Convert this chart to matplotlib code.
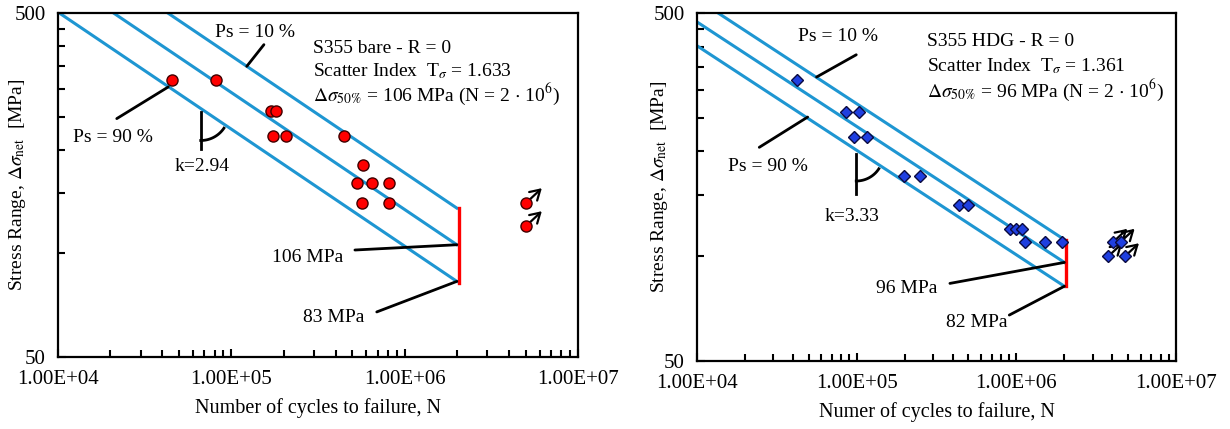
import numpy as np
import matplotlib.pyplot as plt
from matplotlib.ticker import FixedLocator, NullFormatter, FuncFormatter, LogLocator
from matplotlib.transforms import offset_copy

plt.rcParams['font.family'] = ['Liberation Serif', 'DejaVu Serif']
plt.rcParams['mathtext.fontset'] = 'stix'
plt.rcParams['font.size'] = 14

# S355 bare, R = 0
bare_N = [45300, 81700, 168700, 182000, 173000, 207000, 444000,
          578000, 529000, 648000, 813000, 565000, 813000]
bare_S = [320, 320, 260, 260, 220, 220, 220, 181, 160, 160, 160, 140, 140]
bare_runout_N = [5.0e6, 5.0e6]
bare_runout_S = [140, 120]
bare_S50 = 106
bare_T = 1.633
bare_k = 2.94

# S355 HDG, R = 0
hdg_N = [42400, 85500, 102900, 96700, 116400, 198600, 250000, 439000,
         500000, 912000, 994000, 1080000, 1130000, 1510000, 1920000]
hdg_S = [320, 260, 260, 220, 220, 170, 170, 140, 140, 120, 120, 120, 110, 110, 110]
hdg_runout_N = [4.05e6, 4.5e6, 3.77e6, 4.79e6]
hdg_runout_S = [110, 110, 100, 100]
hdg_S50 = 96
hdg_S90 = 82
hdg_T = 1.361
hdg_k = 3.33

N_ref = 2e6
line_blue = '#1e96d2'

fig = plt.figure(figsize=(12.3, 4.29), dpi=100)
W, H = 1230, 429
ax1 = fig.add_axes([58 / W, 1 - 357 / H, 520 / W, 344 / H])
ax2 = fig.add_axes([697 / W, 1 - 361 / H, 479 / W, 348 / H])


def setup_axes(ax, xlabel, ylab_x):
    ax.set_xscale('log')
    ax.set_yscale('log')
    ax.set_xlim(1e4, 1e7)
    ax.set_ylim(50, 500)
    ax.xaxis.set_major_locator(FixedLocator([1e4, 1e5, 1e6, 1e7]))
    ax.xaxis.set_major_formatter(FuncFormatter(lambda v, p: f'{v:.2E}'))
    ax.xaxis.set_minor_locator(LogLocator(base=10, subs=np.arange(2, 10)))
    ax.xaxis.set_minor_formatter(NullFormatter())
    ax.yaxis.set_major_locator(FixedLocator([50, 500]))
    ax.yaxis.set_major_formatter(FuncFormatter(lambda v, p: f'{v:.0f}'))
    ax.yaxis.set_minor_locator(FixedLocator(np.arange(100, 500, 50)))
    ax.yaxis.set_minor_formatter(NullFormatter())
    ax.tick_params(which='both', direction='in', width=1.5, labelsize=15)
    ax.tick_params(which='major', length=6, pad=9)
    ax.tick_params(which='minor', length=5)
    for sp in ax.spines.values():
        sp.set_linewidth(1.6)
    ax.set_xlabel(xlabel, fontsize=14.5, labelpad=7)
    ax.set_ylabel(r'Stress Range, $\Delta\sigma_{\mathrm{net}}$  [MPa]', fontsize=14)
    ax.yaxis.set_label_coords(ylab_x, 0.5)


def sn_line(S_at_ref, k):
    N = np.logspace(3.5, np.log10(N_ref), 200)
    return N, S_at_ref * (N_ref / N) ** (1.0 / k)


def angle_mark(ax, N_v, S_v, k, drop, radius):
    # vertical stroke under the 90 % line plus an arc up to the line
    vx, vy = ax.transData.transform((N_v, S_v))
    x2, y2 = ax.transData.transform((N_v * 10, S_v * 10 ** (-1.0 / k)))
    ang = np.arctan2(y2 - vy, x2 - vx)
    vy = vy - 4
    inv = ax.transData.inverted()
    pts = inv.transform([(vx, vy), (vx, vy - drop)])
    ax.plot(pts[:, 0], pts[:, 1], color='k', lw=2)
    t = np.linspace(-np.pi / 2, ang, 40)
    arc = inv.transform(np.column_stack([vx + radius * np.cos(t), vy + radius * np.sin(t)]))
    ax.plot(arc[:, 0], arc[:, 1], color='k', lw=2)


def runout_arrows(ax, Ns, Ss, dx, dy):
    tip = offset_copy(ax.transData, fig=fig, x=dx, y=dy, units='dots')
    for n, s in zip(Ns, Ss):
        ax.annotate('', xy=(n, s), xycoords=tip, xytext=(n, s), textcoords='data',
                    arrowprops=dict(arrowstyle='->,head_length=0.5,head_width=0.3',
                                    lw=1.6, color='k', shrinkA=0, shrinkB=0))


def leader(ax, p_text, p_end, end_data=False):
    ax.annotate('', xy=p_end, xycoords='data' if end_data else 'axes fraction',
                xytext=p_text, textcoords='axes fraction',
                arrowprops=dict(arrowstyle='-', lw=2, color='k', shrinkA=0, shrinkB=0))


# ---------------- left panel ----------------
setup_axes(ax1, 'Number of cycles to failure, N', -0.058)
S90 = bare_S50 / np.sqrt(bare_T)
S10 = bare_S50 * np.sqrt(bare_T)
for s in (S10, bare_S50, S90):
    n, sv = sn_line(s, bare_k)
    ax1.plot(n, sv, color=line_blue, lw=2.2)
ax1.plot([N_ref * 1.03, N_ref * 1.03], [S90 * 0.99, S10], color='#ff0000', lw=2.4)
ax1.plot(bare_N, bare_S, 'o', ms=8, mfc='#ff0000', mec='#400000', mew=1, ls='none', zorder=5)
ax1.plot(bare_runout_N, bare_runout_S, 'o', ms=8, mfc='#ff0000', mec='#400000', mew=1, ls='none', zorder=5)
runout_arrows(ax1, bare_runout_N, bare_runout_S, 16, 15)

ax1.text(0.379, 0.942, 'Ps = 10 %', transform=ax1.transAxes, ha='center', va='center')
leader(ax1, (0.396, 0.908), (0.363, 0.845))
ax1.text(0.105, 0.637, 'Ps = 90 %', transform=ax1.transAxes, ha='center', va='center')
leader(ax1, (0.113, 0.693), (0.212, 0.785))
angle_mark(ax1, 66600, S90 * (N_ref / 66600) ** (1 / bare_k), bare_k, 37, 28)
ax1.text(0.278, 0.555, 'k=2.94', transform=ax1.transAxes, ha='center', va='center')
ax1.text(0.49, 0.898, 'S355 bare - R = 0', transform=ax1.transAxes, va='center')
ax1.text(0.49, 0.831, r'Scatter Index  T$_\sigma$ = 1.633', transform=ax1.transAxes, va='center')
ax1.text(0.49, 0.763, r'$\Delta\sigma_{50\%}$ = 106 MPa (N = 2 $\cdot$ 10$^6$)',
         transform=ax1.transAxes, va='center')
ax1.text(0.48, 0.289, '106 MPa', transform=ax1.transAxes, ha='center', va='center')
leader(ax1, (0.571, 0.311), (N_ref, bare_S50), end_data=True)
ax1.text(0.53, 0.114, '83 MPa', transform=ax1.transAxes, ha='center', va='center')
leader(ax1, (0.613, 0.131), (N_ref, S90), end_data=True)

# ---------------- right panel ----------------
setup_axes(ax2, 'Numer of cycles to failure, N', -0.056)
S10h = hdg_S90 * hdg_T
for s in (S10h, hdg_S50, hdg_S90):
    n, sv = sn_line(s, hdg_k)
    ax2.plot(n, sv, color=line_blue, lw=2.2)
ax2.plot([N_ref * 1.02, N_ref * 1.02], [hdg_S90, S10h], color='#ff0000', lw=2.4)
ax2.plot(hdg_N, hdg_S, 'D', ms=6.5, mfc='#1f3fe0', mec='#0a0a40', mew=1, ls='none', zorder=5)
ax2.plot(hdg_runout_N, hdg_runout_S, 'D', ms=6.5, mfc='#1f3fe0', mec='#0a0a40', mew=1, ls='none', zorder=5)
runout_arrows(ax2, hdg_runout_N, hdg_runout_S, 14, 13)

ax2.text(0.2935, 0.933, 'Ps = 10 %', transform=ax2.transAxes, ha='center', va='center')
leader(ax2, (0.3325, 0.880), (0.2496, 0.816))
ax2.text(0.148, 0.559, 'Ps = 90 %', transform=ax2.transAxes, ha='center', va='center')
leader(ax2, (0.130, 0.614), (0.231, 0.701))
angle_mark(ax2, 99400, hdg_S90 * (N_ref / 99400) ** (1 / hdg_k), hdg_k, 40, 27)
ax2.text(0.3244, 0.415, 'k=3.33', transform=ax2.transAxes, ha='center', va='center')
ax2.text(0.481, 0.918, 'S355 HDG - R = 0', transform=ax2.transAxes, va='center')
ax2.text(0.481, 0.847, r'Scatter Index  T$_\sigma$ = 1.361', transform=ax2.transAxes, va='center')
ax2.text(0.481, 0.779, r'$\Delta\sigma_{50\%}$ = 96 MPa (N = 2 $\cdot$ 10$^6$)',
         transform=ax2.transAxes, va='center')
ax2.text(0.438, 0.209, '96 MPa', transform=ax2.transAxes, ha='center', va='center')
leader(ax2, (0.528, 0.223), (N_ref, hdg_S50), end_data=True)
ax2.text(0.583, 0.110, '82 MPa', transform=ax2.transAxes, ha='center', va='center')
leader(ax2, (0.652, 0.132), (N_ref, hdg_S90), end_data=True)

fig.savefig('out.png', dpi=100)
